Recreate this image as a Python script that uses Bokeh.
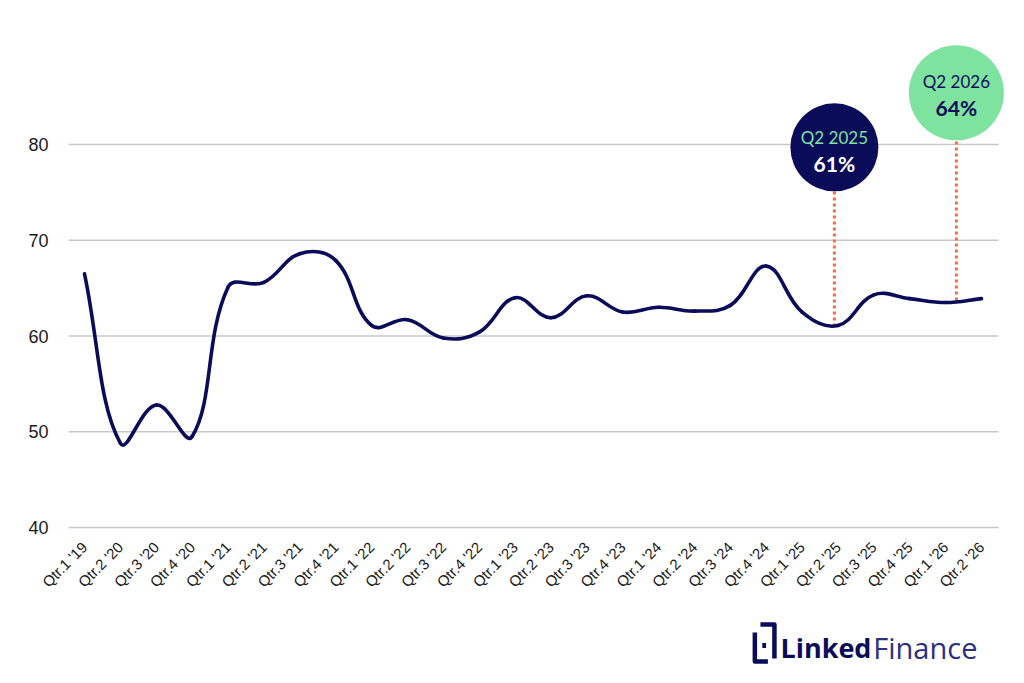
import math
from bokeh.plotting import figure
from bokeh.models import Range1d, FixedTicker
from bokeh.layouts import column
from bokeh.core.properties import value
from bokeh.embed import file_html
from bokeh.resources import INLINE

# ---------------- data ----------------
quarters = ["Qtr.1 '19", "Qtr.2 '20", "Qtr.3 '20", "Qtr.4 '20",
            "Qtr.1 '21", "Qtr.2 '21", "Qtr.3 '21", "Qtr.4 '21",
            "Qtr.1 '22", "Qtr.2 '22", "Qtr.3 '22", "Qtr.4 '22",
            "Qtr.1 '23", "Qtr.2 '23", "Qtr.3 '23", "Qtr.4 '23",
            "Qtr.1 '24", "Qtr.2 '24", "Qtr.3 '24", "Qtr.4 '24",
            "Qtr.1 '25", "Qtr.2 '25", "Qtr.3 '25", "Qtr.4 '25",
            "Qtr.1 '26", "Qtr.2 '26"]
values = [66.5, 48.8, 52.8, 49.5,
          65.1, 65.6, 68.6, 67.9,
          61.1, 61.7, 59.8, 60.4,
          64.0, 61.9, 64.2, 62.5,
          63.0, 62.6, 63.2, 67.3,
          62.5, 61.1, 64.3, 63.9,
          63.5, 63.9]
y_ticks = [40, 50, 60, 70, 80]

callout_titles = ["Q2 2025", "Q2 2026"]
callout_values = ["61%", "64%"]
callout_x = [20.9, 24.3]          # position along the quarter axis
callout_line_end = [61.0, 63.7]   # where the dotted leader meets the curve
callout_center = [79.7, 85.4]     # bubble centre (value axis)

# ---------------- styles ----------------
NAVY = "#0b0c59"
GREEN = "#7fe3a0"
ORANGE = "#ff6b3f"
GRID = "#c8c8c8"

W, H = 1008, 610
BL, BR, BT, BB = 68, 0, 29, 80
PX_X = 35.88      # pixels per quarter
PX_Y = 9.575      # pixels per percentage point
X0 = -16 / PX_X
X1 = X0 + (W - BL - BR) / PX_X
GRID_END = X0 + (998 - BL) / PX_X
Y0 = 40 - 3 / PX_Y
Y1 = Y0 + (H - BT - BB) / PX_Y

p = figure(width=W, height=H, x_range=Range1d(X0, X1), y_range=Range1d(Y0, Y1),
           output_backend="svg", toolbar_location=None,
           min_border_left=BL, min_border_right=BR, min_border_top=BT, min_border_bottom=BB)
p.outline_line_color = None
p.background_fill_color = "white"
p.border_fill_color = "white"

# grid lines (end before the right edge, like the original)
p.xgrid.visible = False
p.ygrid.visible = False
p.segment(x0=[X0] * len(y_ticks), y0=y_ticks, x1=[GRID_END] * len(y_ticks), y1=y_ticks,
          line_color=GRID, line_width=1.3)

p.yaxis.ticker = FixedTicker(ticks=y_ticks)
p.yaxis.axis_line_color = None
p.yaxis.major_tick_line_color = None
p.yaxis.minor_tick_line_color = None
p.yaxis.major_label_text_font = "Liberation Sans"
p.yaxis.major_label_text_font_size = "18px"
p.yaxis.major_label_text_color = "#1a1a1a"
p.yaxis.major_label_standoff = 14

idx = list(range(len(quarters)))
p.xaxis.ticker = FixedTicker(ticks=idx)
p.xaxis.major_label_overrides = {i: q for i, q in zip(idx, quarters)}
p.xaxis.major_label_orientation = math.pi / 4
p.xaxis.axis_line_color = None
p.xaxis.major_tick_line_color = None
p.xaxis.minor_tick_line_color = None
p.xaxis.major_label_text_font = "Liberation Sans"
p.xaxis.major_label_text_font_size = "15px"
p.xaxis.major_label_text_color = "#1a1a1a"
p.xaxis.major_label_standoff = 8

# smooth curve (Chart.js-style spline, tension 0.4) drawn with bezier segments
pts = [(x * PX_X, y * PX_Y) for x, y in zip(idx, values)]
tension = 0.4
cp_prev, cp_next = [], []
n = len(pts)
for i in range(n):
    prev = pts[max(i - 1, 0)]
    cur = pts[i]
    nxt = pts[min(i + 1, n - 1)]
    d01 = math.hypot(cur[0] - prev[0], cur[1] - prev[1])
    d12 = math.hypot(nxt[0] - cur[0], nxt[1] - cur[1])
    tot = d01 + d12
    s01 = d01 / tot if tot else 0
    s12 = d12 / tot if tot else 0
    fa, fb = tension * s01, tension * s12
    cp_prev.append((cur[0] - fa * (nxt[0] - prev[0]), cur[1] - fa * (nxt[1] - prev[1])))
    cp_next.append((cur[0] + fb * (nxt[0] - prev[0]), cur[1] + fb * (nxt[1] - prev[1])))

bx0 = [idx[i] for i in range(n - 1)]
by0 = [values[i] for i in range(n - 1)]
bx1 = [idx[i + 1] for i in range(n - 1)]
by1 = [values[i + 1] for i in range(n - 1)]
bcx0 = [cp_next[i][0] / PX_X for i in range(n - 1)]
bcy0 = [cp_next[i][1] / PX_Y for i in range(n - 1)]
bcx1 = [cp_prev[i + 1][0] / PX_X for i in range(n - 1)]
bcy1 = [cp_prev[i + 1][1] / PX_Y for i in range(n - 1)]

# dotted leaders
p.segment(x0=callout_x, y0=callout_line_end, x1=callout_x, y1=callout_center,
          line_color=ORANGE, line_width=3, line_dash="3 3")

p.bezier(x0=bx0, y0=by0, x1=bx1, y1=by1, cx0=bcx0, cy0=bcy0, cx1=bcx1, cy1=bcy1,
         line_color=NAVY, line_width=3.6, line_cap="round")

# bubbles
p.scatter(x=callout_x, y=callout_center, size=[88, 95], marker="circle",
          fill_color=[NAVY, GREEN], line_color=None)
p.text(x=callout_x, y=callout_center, text=callout_titles, y_offset=[-10, -11],
       text_color=[GREEN, NAVY], text_font=value("Lato"), text_font_size="17px",
       text_align="center", text_baseline="middle")
p.text(x=callout_x, y=callout_center, text=callout_values, y_offset=[16, 15],
       text_color=["white", NAVY], text_font=value("Lato"), text_font_style="bold",
       text_font_size="21px", text_align="center", text_baseline="middle")

# ---------------- logo strip ----------------
LH = 57
q = figure(width=W, height=LH, x_range=Range1d(0, W), y_range=Range1d(LH, 0),
           output_backend="svg", toolbar_location=None,
           x_axis_location=None, y_axis_location=None,
           min_border_left=0, min_border_right=0, min_border_top=0, min_border_bottom=0)
q.outline_line_color = None
q.grid.visible = False
q.multi_line(xs=[[736, 736, 750], [742, 757, 757]], ys=[[22, 51, 51], [14, 14, 48]],
             line_color=NAVY, line_width=4.5, line_join="round")
q.rect(x=[746], y=[35], width=4, height=5, fill_color=NAVY, line_color=None)
q.text(x=[861], y=[37], text=["Linked"], text_font=value("Open Sans"), text_font_style="bold",
       text_font_size="27px", text_color=NAVY, text_align="right", text_baseline="middle")
q.text(x=[863], y=[37], text=["Finance"], text_font=value("Open Sans"),
       text_font_size="29px", text_color="#2b2f82", text_align="left", text_baseline="middle")

layout = column(p, q, spacing=0)
open("out.html", "w").write(file_html(layout, INLINE))
